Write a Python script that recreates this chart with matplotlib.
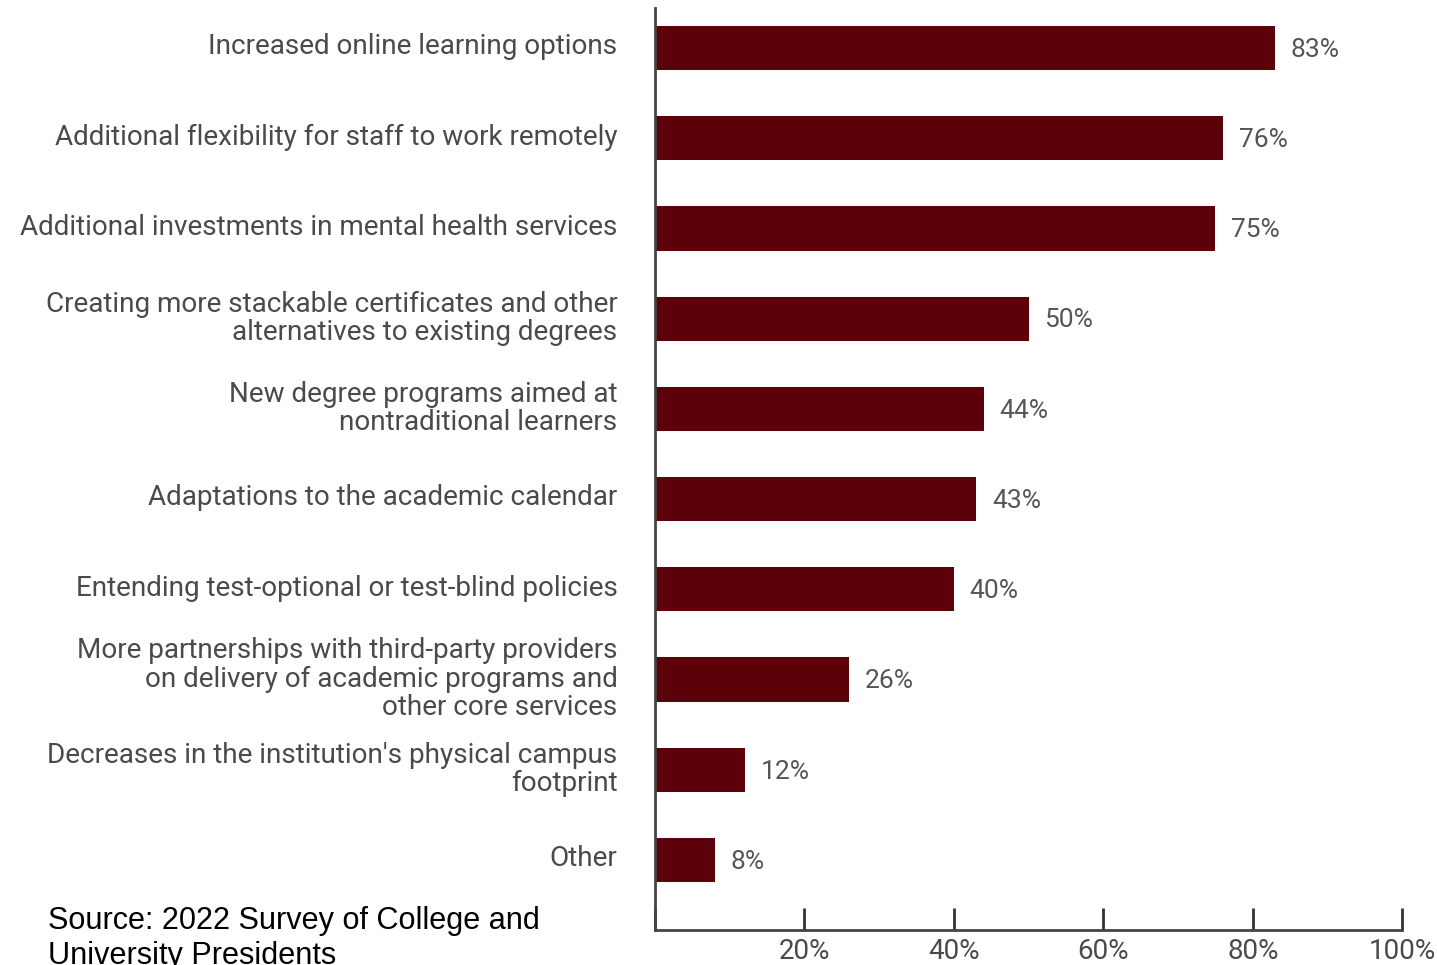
import matplotlib.pyplot as plt
from matplotlib.transforms import ScaledTranslation

categories = [
    'Increased online learning options',
    'Additional flexibility for staff to work remotely',
    'Additional investments in mental health services',
    'Creating more stackable certificates and other\nalternatives to existing degrees',
    'New degree programs aimed at\nnontraditional learners',
    'Adaptations to the academic calendar',
    'Entending test-optional or test-blind policies',
    'More partnerships with third-party providers\non delivery of academic programs and\nother core services',
    "Decreases in the institution's physical campus\nfootprint",
    'Other',
]
values = [83, 76, 75, 50, 44, 43, 40, 26, 12, 8]
tick_values = [0, 20, 40, 60, 80, 100]
tick_labels = ['', '20%', '40%', '60%', '80%', '100%']

bar_color = '#5c000a'
text_color = '#4a4a4a'

fig = plt.figure(figsize=(14.37, 9.65), dpi=100)
ax = fig.add_axes([0.4558, 0.0363, 0.52, 0.9554])

pos = list(range(len(categories)))
ax.barh(pos, values, height=0.49, color=bar_color)

for p, v in zip(pos, values):
    ax.text(v + 2.1, p + 0.02, f'{v}%', va='center', ha='left', fontsize=19,
            family='Roboto', color='#555555')

ax.set_yticks(pos)
ax.set_yticklabels(categories, fontsize=20.1, family='Roboto', color=text_color,
                   linespacing=1.08)
ax.tick_params(axis='y', length=0, pad=27)
# nudge the category labels up a little
shift = ScaledTranslation(0, 3 / 72, fig.dpi_scale_trans)
for lbl in ax.get_yticklabels():
    lbl.set_transform(lbl.get_transform() + shift)

ax.set_xlim(0, 100)
ax.set_ylim(9.776, -0.443)
ax.set_xticks(tick_values)
ax.set_xticklabels(tick_labels, fontsize=20, family='Roboto', color=text_color)
ax.tick_params(axis='x', direction='in', length=16, width=2, color='#333333', pad=6)

for side in ['top', 'right']:
    ax.spines[side].set_visible(False)
for side in ['left', 'bottom']:
    ax.spines[side].set_linewidth(2)
    ax.spines[side].set_color('#444444')

fig.text(48 / 1437, 1 - 906 / 965, 'Source: 2022 Survey of College and\nUniversity Presidents',
         ha='left', va='top', fontsize=22.1, family='Liberation Sans', color='black',
         linespacing=1.2)

fig.savefig('out.png', dpi=100)
